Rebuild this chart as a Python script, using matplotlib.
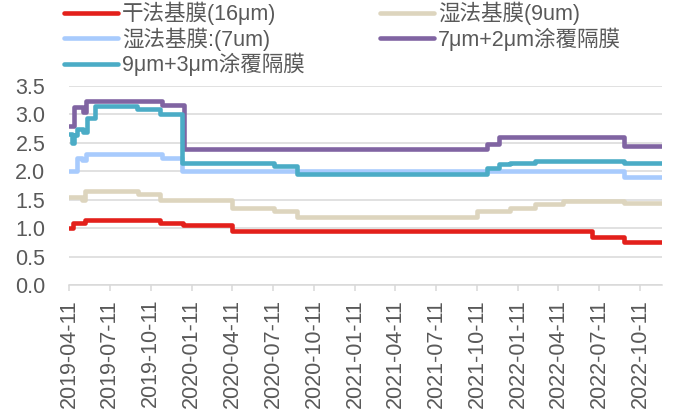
import matplotlib
matplotlib.use('Agg')
import matplotlib.pyplot as plt
import matplotlib.dates as mdates
import pandas as pd

plt.rcParams['font.family'] = ['Liberation Sans', 'Noto Sans CJK SC', 'DejaVu Sans']

labels = ['干法基膜(16μm)', '湿法基膜(9um)', '湿法基膜:(7um)', '7μm+2μm涂覆隔膜', '9μm+3μm涂覆隔膜']
colors = ['#E3201B', '#DDD5BE', '#A8CBFD', '#8064A2', '#4BACC6']

dry16_dates = ['2019-04-11', '2019-04-21', '2019-05-17', '2019-11-01', '2019-12-23',
               '2020-04-09', '2022-06-25', '2022-09-05', '2022-11-29']
dry16_vals = [1.00, 1.09, 1.15, 1.09, 1.05, 0.95, 0.85, 0.75, 0.75]

wet9_dates = ['2019-04-11', '2019-05-09', '2019-05-17', '2019-09-13', '2019-11-01',
              '2020-04-09', '2020-07-12', '2020-09-03', '2021-10-10', '2021-12-24',
              '2022-02-18', '2022-04-22', '2022-09-05', '2022-11-29']
wet9_vals = [1.55, 1.50, 1.65, 1.60, 1.50, 1.35, 1.30, 1.20, 1.30, 1.36, 1.42, 1.48, 1.45, 1.45]

wet7_dates = ['2019-04-11', '2019-04-28', '2019-05-09', '2019-05-19', '2019-11-05',
              '2019-12-19', '2022-09-05', '2022-11-29']
wet7_vals = [2.00, 2.24, 2.20, 2.30, 2.24, 2.00, 1.90, 1.90]

c72_dates = ['2019-04-11', '2019-04-22', '2019-05-12', '2019-05-19', '2019-11-05',
             '2019-12-25', '2021-11-02', '2021-11-28', '2022-09-05', '2022-11-29']
c72_vals = [2.80, 3.13, 3.05, 3.24, 3.17, 2.40, 2.48, 2.60, 2.45, 2.45]

c93_dates = ['2019-04-11', '2019-04-17', '2019-04-22', '2019-04-28', '2019-05-12',
             '2019-05-21', '2019-06-08', '2019-09-10', '2019-11-01', '2019-12-19',
             '2020-07-12', '2020-09-03', '2021-11-02', '2021-11-28', '2021-12-24',
             '2022-02-18', '2022-09-05', '2022-11-29']
c93_vals = [2.65, 2.49, 2.64, 2.74, 2.69, 2.93, 3.15, 3.10, 3.00, 2.14,
            2.09, 1.96, 2.06, 2.12, 2.15, 2.18, 2.14, 2.14]

tick_labels = ['2019-04-11', '2019-07-11', '2019-10-11', '2020-01-11', '2020-04-11',
               '2020-07-11', '2020-10-11', '2021-01-11', '2021-04-11', '2021-07-11',
               '2021-10-11', '2022-01-11', '2022-04-11', '2022-07-11', '2022-10-11']
y_ticks = [0.0, 0.5, 1.0, 1.5, 2.0, 2.5, 3.0, 3.5]

series = [(dry16_dates, dry16_vals), (wet9_dates, wet9_vals), (wet7_dates, wet7_vals),
          (c72_dates, c72_vals), (c93_dates, c93_vals)]

W, H = 673, 412
fig = plt.figure(figsize=(W / 100, H / 100), dpi=100)
ax = fig.add_axes([69 / W, 1 - 285 / H, (662 - 69) / W, (285 - 86) / H])

text_color = '#595959'
grid_color = '#D9D9D9'
fs = 15.5

handles = []
for (d, v), lab, col in zip(series, labels, colors):
    ln, = ax.plot(pd.to_datetime(d), v, drawstyle='steps-post', color=col, lw=3.3,
                  solid_capstyle='round', solid_joinstyle='round', label=lab, zorder=3)
    handles.append(ln)

ax.set_xlim(pd.Timestamp('2019-04-11'), pd.Timestamp('2022-11-29'))
ax.set_ylim(0, 3.5)
ax.set_yticks(y_ticks)
ax.set_yticklabels([f'{t:.1f}' for t in y_ticks])
ax.set_xticks(pd.to_datetime(tick_labels))
ax.set_xticklabels(tick_labels, rotation=90)

ax.grid(axis='y', color=grid_color, lw=1.1, zorder=0)
ax.set_axisbelow(True)
for s in ['top', 'right', 'left']:
    ax.spines[s].set_visible(False)
ax.spines['bottom'].set_color(grid_color)
ax.spines['bottom'].set_linewidth(1.1)
ax.tick_params(axis='y', length=0, pad=17, labelsize=fs, labelcolor=text_color)
ax.tick_params(axis='x', length=4, width=1.1, color=grid_color, pad=6,
               labelsize=fs, labelcolor=text_color)

order = [0, 2, 4, 1, 3]
leg = fig.legend([handles[i] for i in order], [labels[i] for i in order],
                 loc='upper left', bbox_to_anchor=(64 / W, 1 - 2 / H), ncol=2,
                 frameon=False, fontsize=fs, handlelength=2.5, handletextpad=0.2,
                 columnspacing=3.5, labelspacing=0.1, borderpad=0, borderaxespad=0)
for t in leg.get_texts():
    t.set_color(text_color)

fig.savefig('out.png', dpi=100)
